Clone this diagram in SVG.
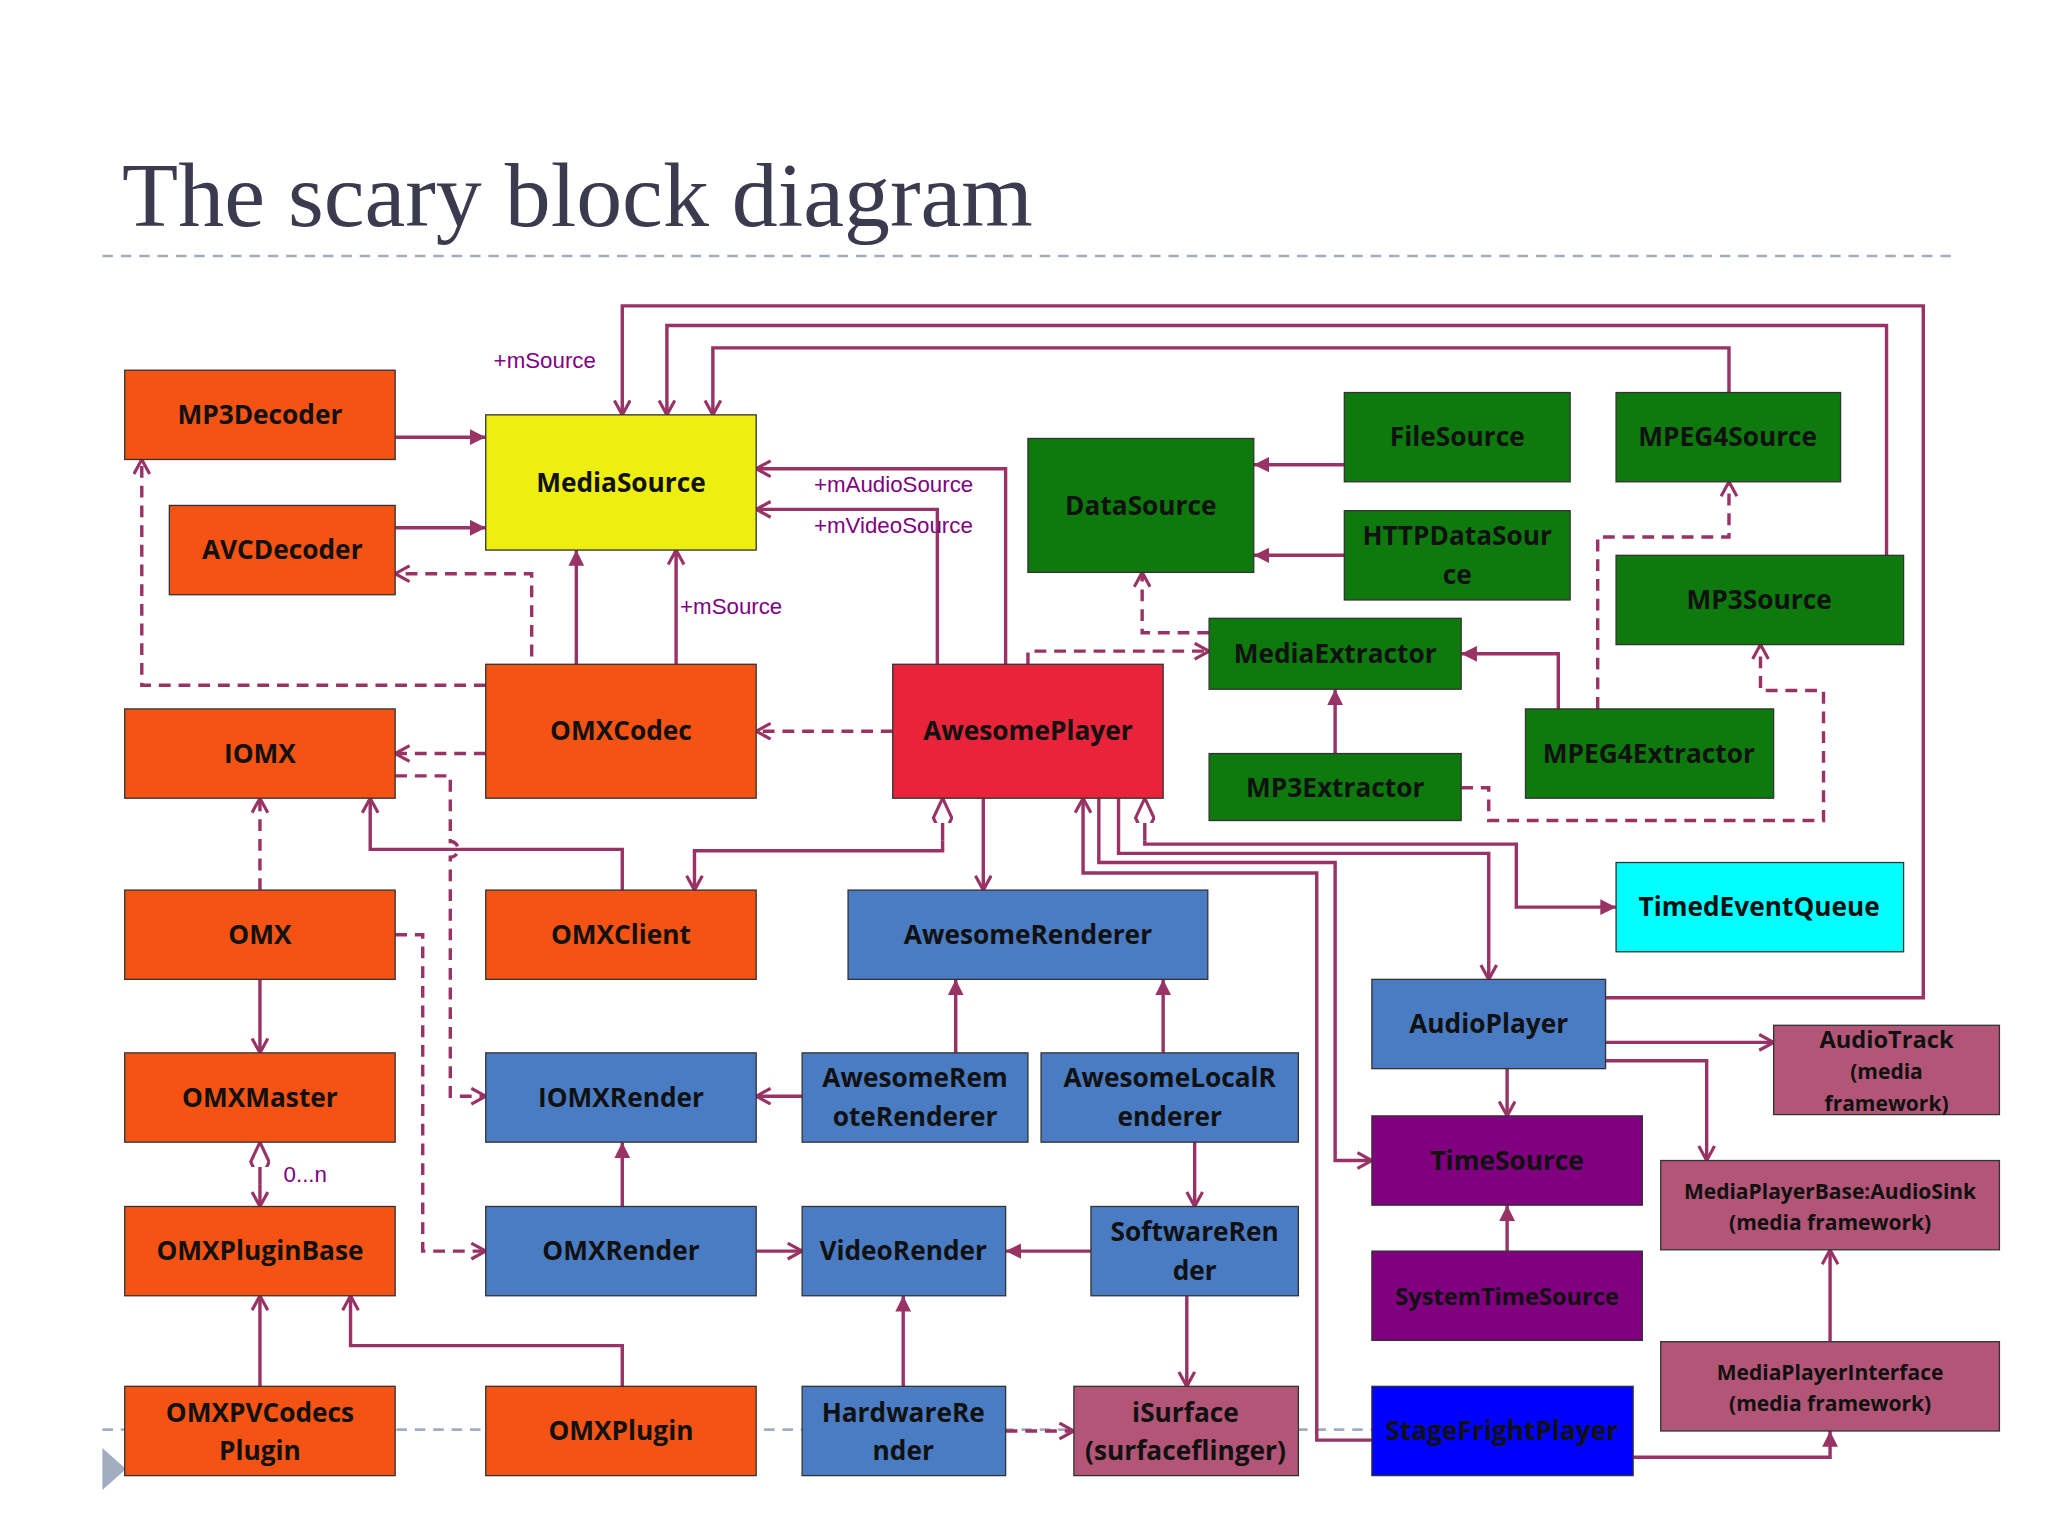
<svg xmlns="http://www.w3.org/2000/svg" width="2048" height="1536" viewBox="0 0 2048 1536">
<style>
.b{stroke:#333;stroke-width:1}
.o{fill:#F55314}.g{fill:#0E7A0E}.u{fill:#4A7CC4}.m{fill:#B25577}.p{fill:#800080}
text{font-family:"Open Sans","Liberation Sans",sans-serif;font-weight:bold;font-size:20px;fill:#111;text-anchor:middle}
.s{font-size:16px}
.l{font-family:"Liberation Sans",sans-serif;font-weight:normal;font-size:17px;fill:#800080;text-anchor:start}
.c path{fill:none;stroke:#993366;stroke-width:2.6}
.c .d{stroke-dasharray:9 6}
.fa{marker-end:url(#f)}.oa{marker-end:url(#op)}
</style>
<defs>
<marker id="f" markerUnits="userSpaceOnUse" markerWidth="14" markerHeight="14" refX="12" refY="6" orient="auto"><path d="M0,0L12,6L0,12Z" fill="#993366"/></marker>
<marker id="op" markerUnits="userSpaceOnUse" markerWidth="16" markerHeight="16" refX="12" refY="7" orient="auto"><path d="M1,1L12,7L1,13" fill="none" stroke="#993366" stroke-width="2.4"/></marker>
<marker id="dm" markerUnits="userSpaceOnUse" markerWidth="20" markerHeight="20" refX="1" refY="8" orient="auto"><path d="M1,8L16,1L31,8L16,15Z" fill="#fff" stroke="#993366" stroke-width="2.4"/></marker>
</defs>
<rect width="2048" height="1536" fill="#fff"/>
<g transform="scale(1.31282)">
<text x="93" y="172" style="font-family:'Liberation Serif',serif;font-weight:normal;font-size:70px;fill:#3b3b50;text-anchor:start">The scary block diagram</text>
<path d="M78,195H1490M78,1089H1045" stroke="#a0aec0" stroke-width="2" stroke-dasharray="8 6" fill="none"/>
<path d="M78,1103L96,1119L78,1135Z" fill="#a0aec0"/>
<g class="c">
<path class="fa" d="M301,333H370"/><path class="fa" d="M301,402H370"/>
<path class="fa" d="M439,506V419"/><path class="oa" d="M515,506V419"/>
<path class="d oa" d="M405,500V437H301"/><path class="d oa" d="M370,522H108V350"/>
<path class="d oa" d="M370,574H301"/><path class="d oa" d="M680,557H576"/>
<path class="oa" d="M766,506V357H576"/><path class="oa" d="M714,506V388H576"/>
<path class="oa" d="M1437,423V248H508V316"/><path class="oa" d="M1317,299V265H543V316"/>
<path class="oa" d="M1223,760H1465V233H474V316"/>
<path class="fa" d="M1024,354H955"/><path class="fa" d="M1024,423H955"/>
<path class="d oa" d="M921,482H870V436"/><path class="d oa" d="M783,506V496H921"/>
<path class="fa" d="M1017,574V525"/><path class="fa" d="M1187,540V498H1113"/>
<path class="d oa" d="M1217,540V409H1317V367"/>
<path class="d oa" d="M1113,600H1134V625H1389V526H1341V491"/>
<path class="oa" d="M718,640V648H529V678"/><path d="M718,608V640" style="marker-start:url(#dm)"/>
<path class="fa" d="M872,640V643H1155V691H1231"/><path d="M872,608V640" style="marker-start:url(#dm)"/>
<path class="oa" d="M749,608V678"/>
<path class="oa" d="M852,608V650H1134V746"/>
<path class="oa" d="M1045,1097H1003V665H825V608"/>
<path class="oa" d="M837,608V657H1017V884H1045"/>
<path class="oa" d="M474,678V647H282V608"/>
<path class="d oa" d="M301,591H343V641A6,6 0 0 1 343,653V835H370"/>
<path class="d oa" d="M198,678V608"/>
<path class="d oa" d="M301,712H322V953H370"/>
<path class="oa" d="M198,746V802"/>
<path class="oa" d="M198,902V919"/><path d="M198,870V902" style="marker-start:url(#dm)"/>
<path class="oa" d="M198,1056V987"/><path class="oa" d="M474,1056V1025H267V987"/>
<path class="fa" d="M474,919V870"/><path class="oa" d="M576,953H611"/>
<path class="oa" d="M611,835H576"/>
<path class="fa" d="M728,802V746"/><path class="fa" d="M886,802V746"/>
<path class="oa" d="M910,870V919"/><path class="fa" d="M831,953H766"/>
<path class="oa" d="M904,987V1056"/><path class="fa" d="M688,1056V987"/>
<path class="d oa" d="M766,1090H818"/>
<path class="oa" d="M1148,814V850"/><path class="fa" d="M1148,953V918"/>
<path class="oa" d="M1223,794H1351"/><path class="oa" d="M1223,808H1300V884"/>
<path class="oa" d="M1394,1022V952"/><path class="fa" d="M1244,1110H1394V1090"/>
</g>
<g class="l" style="font-family:'Liberation Sans',sans-serif">
<text class="l" x="376" y="280">+mSource</text><text class="l" x="518" y="468">+mSource</text>
<text class="l" x="620" y="375">+mAudioSource</text><text class="l" x="620" y="406">+mVideoSource</text>
<text class="l" x="216" y="900">0...n</text>
</g>
<g id="MP3Decoder"><rect class="b o" x="95" y="282" width="206" height="68"/><text x="198" y="323">MP3Decoder</text></g>
<g id="AVCDecoder"><rect class="b o" x="129" y="385" width="172" height="68"/><text x="215" y="426">AVCDecoder</text></g>
<g id="MediaSource"><rect class="b" fill="#EEEE11" x="370" y="316" width="206" height="103"/><text x="473" y="375">MediaSource</text></g>
<g id="OMXCodec"><rect class="b o" x="370" y="506" width="206" height="102"/><text x="473" y="564">OMXCodec</text></g>
<g id="IOMX"><rect class="b o" x="95" y="540" width="206" height="68"/><text x="198" y="581">IOMX</text></g>
<g id="OMX"><rect class="b o" x="95" y="678" width="206" height="68"/><text x="198" y="719">OMX</text></g>
<g id="OMXClient"><rect class="b o" x="370" y="678" width="206" height="68"/><text x="473" y="719">OMXClient</text></g>
<g id="OMXMaster"><rect class="b o" x="95" y="802" width="206" height="68"/><text x="198" y="843">OMXMaster</text></g>
<g id="OMXPluginBase"><rect class="b o" x="95" y="919" width="206" height="68"/><text x="198" y="960">OMXPluginBase</text></g>
<g id="OMXPVCodecsPlugin"><rect class="b o" x="95" y="1056" width="206" height="68"/><text x="198" y="1083">OMXPVCodecs</text><text x="198" y="1112">Plugin</text></g>
<g id="OMXPlugin"><rect class="b o" x="370" y="1056" width="206" height="68"/><text x="473" y="1097">OMXPlugin</text></g>
<g id="AwesomePlayer"><rect class="b" fill="#E8233A" x="680" y="506" width="206" height="102"/><text x="783" y="564">AwesomePlayer</text></g>
<g id="AwesomeRenderer"><rect class="b u" x="646" y="678" width="274" height="68"/><text x="783" y="719">AwesomeRenderer</text></g>
<g id="IOMXRender"><rect class="b u" x="370" y="802" width="206" height="68"/><text x="473" y="843">IOMXRender</text></g>
<g id="AwesomeRemoteRenderer"><rect class="b u" x="611" y="802" width="172" height="68"/><text x="697" y="828">AwesomeRem</text><text x="697" y="858">oteRenderer</text></g>
<g id="AwesomeLocalRenderer"><rect class="b u" x="793" y="802" width="196" height="68"/><text x="891" y="828">AwesomeLocalR</text><text x="891" y="858">enderer</text></g>
<g id="OMXRender"><rect class="b u" x="370" y="919" width="206" height="68"/><text x="473" y="960">OMXRender</text></g>
<g id="VideoRender"><rect class="b u" x="611" y="919" width="155" height="68"/><text x="688" y="960">VideoRender</text></g>
<g id="SoftwareRender"><rect class="b u" x="831" y="919" width="158" height="68"/><text x="910" y="945">SoftwareRen</text><text x="910" y="975">der</text></g>
<g id="HardwareRender"><rect class="b u" x="611" y="1056" width="155" height="68"/><text x="688" y="1083">HardwareRe</text><text x="688" y="1112">nder</text></g>
<g id="iSurface"><rect class="b m" x="818" y="1056" width="171" height="68"/><text x="903" y="1083">iSurface</text><text x="903" y="1112">(surfaceflinger)</text></g>
<g id="DataSource"><rect class="b g" x="783" y="334" width="172" height="102"/><text x="869" y="392">DataSource</text></g>
<g id="FileSource"><rect class="b g" x="1024" y="299" width="172" height="68"/><text x="1110" y="340">FileSource</text></g>
<g id="HTTPDataSource"><rect class="b g" x="1024" y="389" width="172" height="68"/><text x="1110" y="415">HTTPDataSour</text><text x="1110" y="445">ce</text></g>
<g id="MPEG4Source"><rect class="b g" x="1231" y="299" width="171" height="68"/><text x="1316" y="340">MPEG4Source</text></g>
<g id="MP3Source"><rect class="b g" x="1231" y="423" width="219" height="68"/><text x="1340" y="464">MP3Source</text></g>
<g id="MediaExtractor"><rect class="b g" x="921" y="471" width="192" height="54"/><text x="1017" y="505">MediaExtractor</text></g>
<g id="MP3Extractor"><rect class="b g" x="921" y="574" width="192" height="51"/><text x="1017" y="607">MP3Extractor</text></g>
<g id="MPEG4Extractor"><rect class="b g" x="1162" y="540" width="189" height="68"/><text x="1256" y="581">MPEG4Extractor</text></g>
<g id="TimedEventQueue"><rect class="b" fill="#00FFFF" x="1231" y="657" width="219" height="68"/><text x="1340" y="698">TimedEventQueue</text></g>
<g id="AudioPlayer"><rect class="b u" x="1045" y="746" width="178" height="68"/><text x="1134" y="787">AudioPlayer</text></g>
<g id="TimeSource"><rect class="b p" x="1045" y="850" width="206" height="68"/><text x="1148" y="891">TimeSource</text></g>
<g id="SystemTimeSource"><rect class="b p" x="1045" y="953" width="206" height="68"/><text x="1148" y="994" style="font-size:18px">SystemTimeSource</text></g>
<g id="StageFrightPlayer"><rect class="b" fill="#0000FF" x="1045" y="1056" width="199" height="68"/><text x="1144" y="1097">StageFrightPlayer</text></g>
<g id="AudioTrack"><rect class="b m" x="1351" y="781" width="172" height="68"/><text class="s" x="1437" y="798" style="font-size:18px">AudioTrack</text><text class="s" x="1437" y="822">(media</text><text class="s" x="1437" y="846">framework)</text></g>
<g id="MediaPlayerBaseAudioSink"><rect class="b m" x="1265" y="884" width="258" height="68"/><text class="s" x="1394" y="913">MediaPlayerBase:AudioSink</text><text class="s" x="1394" y="937">(media framework)</text></g>
<g id="MediaPlayerInterface"><rect class="b m" x="1265" y="1022" width="258" height="68"/><text class="s" x="1394" y="1051">MediaPlayerInterface</text><text class="s" x="1394" y="1075">(media framework)</text></g>
</g>
</svg>
